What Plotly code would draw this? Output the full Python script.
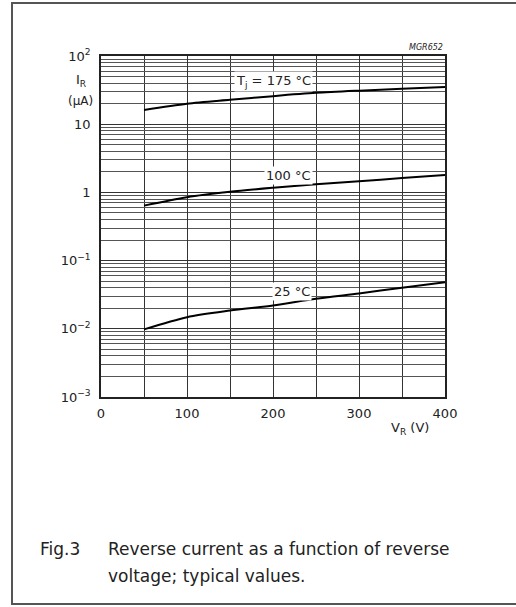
import plotly.graph_objects as go

# Data (V_R in V, I_R in µA)
vr = [50, 100, 150, 200, 250, 300, 350, 400]
ir_175 = [16.2, 20.0, 22.8, 25.8, 28.8, 31.0, 33.0, 35.0]
ir_100 = [0.64, 0.85, 1.02, 1.17, 1.32, 1.46, 1.62, 1.80]
ir_25 = [0.0098, 0.0148, 0.0185, 0.0220, 0.0275, 0.0330, 0.0400, 0.0480]

x_ticks = [0, 100, 200, 300, 400]
decades = [1e-3, 1e-2, 1e-1, 1, 10, 100]
decade_labels = ["10<sup>−3</sup>", "10<sup>−2</sup>", "10<sup>−1</sup>", "1", "10", "10<sup>2</sup>"]

minor_vals = [d * m for d in decades[:-1] for m in range(2, 10)]

fig = go.Figure()
for ys in (ir_175, ir_100, ir_25):
    fig.add_trace(go.Scatter(x=vr, y=ys, mode="lines",
                             line=dict(color="black", width=2, shape="spline", smoothing=0.8),
                             showlegend=False, hoverinfo="skip"))

font = "DejaVu Sans, Liberation Sans, Arial, sans-serif"
fig.update_layout(
    width=516, height=607,
    margin=dict(l=101, r=71, t=56, b=210),
    paper_bgcolor="white", plot_bgcolor="white",
    font=dict(family=font, size=13, color="#222"),
    xaxis=dict(range=[0, 400], tickvals=x_ticks, ticktext=[str(v) for v in x_ticks],
               showgrid=True, gridcolor="#333", gridwidth=1,
               minor=dict(dtick=50, showgrid=True, gridcolor="#333", gridwidth=1),
               showline=True, linecolor="#222", linewidth=1.5, mirror=True,
               ticks="", zeroline=False, tickfont=dict(size=13), ticklabelstandoff=4),
    yaxis=dict(type="log", range=[-3, 2], tickvals=decades, ticktext=decade_labels,
               showgrid=True, gridcolor="#333", gridwidth=1,
               minor=dict(tickvals=minor_vals, showgrid=True, gridcolor="#555", gridwidth=1, ticks=""),
               showline=True, linecolor="#222", linewidth=1.5, mirror=True,
               ticks="", zeroline=False, tickfont=dict(size=13), ticklabelstandoff=6),
)

ann = dict(showarrow=False, font=dict(family=font, size=13, color="#222"))
fig.add_annotation(x=200, y=1.62, xref="x", yref="y", text="T<sub>j</sub> = 175 °C",
                   bgcolor="white", borderpad=1, **ann)
fig.add_annotation(x=218, y=0.255, xref="x", yref="y", text="100 °C",
                   bgcolor="white", borderpad=1, **ann)
fig.add_annotation(x=222, y=-1.446, xref="x", yref="y", text="25 °C",
                   bgcolor="white", borderpad=1, **ann)

def px(x):
    return (x - 101) / 344
def py(y):
    return (397 - y) / 341

def note(x, y, text, size, xanchor="center"):
    fig.add_annotation(x=px(x), y=py(y), xref="paper", yref="paper",
                       xanchor=xanchor, yanchor="middle", text=text, showarrow=False,
                       font=dict(family=font, size=size, color="#222"))

note(445, 47, "<i>MGR652</i>", 8, xanchor="right")
note(81, 80, "I<sub>R</sub>", 13)
note(80, 101, "(µA)", 12)
note(410, 428, "V<sub>R</sub> (V)", 13)
note(38, 549, "Fig.3", 17, xanchor="left")
note(106, 549, "Reverse current as a function of reverse", 17, xanchor="left")
note(106, 576, "voltage; typical values.", 17, xanchor="left")

fig.add_shape(type="rect", xref="paper", yref="paper",
              x0=px(12), x1=px(530), y0=py(604), y1=py(3),
              line=dict(color="#555", width=2), layer="below")

fig.write_html("out.html", config={"displayModeBar": False},
               post_script="document.body.style.margin='0';document.body.style.overflow='hidden';")
